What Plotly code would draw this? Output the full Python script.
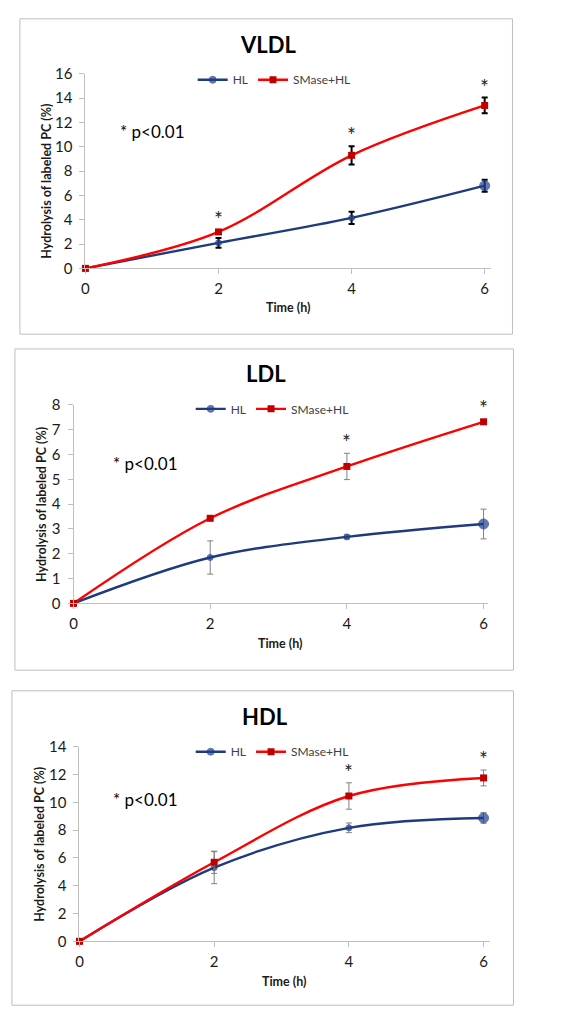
import plotly.graph_objects as go

W, H = 582, 1024

time_h = [0, 2, 4, 6]
x_ticks = [0, 2, 4, 6]

panels = ["VLDL", "LDL", "HDL"]

vldl_hl = [0, 2.1, 4.15, 6.8]
vldl_hl_err = [0, 0.4, 0.5, 0.5]
vldl_sm = [0, 3.0, 9.3, 13.4]
vldl_sm_err = [0, 0.15, 0.75, 0.65]
vldl_sig = [2, 4, 6]

ldl_hl = [0, 1.85, 2.68, 3.2]
ldl_hl_err = [0, 0.67, 0.08, 0.6]
ldl_sm = [0, 3.43, 5.52, 7.32]
ldl_sm_err = [0, 0.05, 0.53, 0.1]
ldl_sig = [4, 6]

hdl_hl = [0, 5.3, 8.17, 8.88]
hdl_hl_err = [0, 1.15, 0.35, 0.38]
hdl_sm = [0, 5.69, 10.46, 11.76]
hdl_sm_err = [0, 0.8, 0.95, 0.57]
hdl_sig = [4, 6]

y_max = [16, 8, 14]
y_dtick = [2, 1, 2]

# layout geometry in px (left, right, top, bottom) of plot areas
geo = [
    dict(pl=82, pr=490.7, pt=65, pb=263, xr=6.1, box=(16, 512, 9, 330),
         title_y=35, leg=(190, 71), p_txt=(150, 124), ytitle_x=43, ytitle_y=174, xtitle_y=303,
         err_col="#000000", err_th=2),
    dict(pl=70, pr=487.7, pt=402, pb=604, xr=6.07, box=(11, 513, 345, 672),
         title_y=370, leg=(188, 406), p_txt=(142, 462), ytitle_x=37, ytitle_y=503, xtitle_y=645,
         err_col="#808080", err_th=1),
    dict(pl=76, pr=489, pt=750, pb=948, xr=6.09, box=(8, 513, 693, 1013),
         title_y=719, leg=(188, 755), p_txt=(142, 804), ytitle_x=35, ytitle_y=849, xtitle_y=989,
         err_col="#808080", err_th=1),
]

data = [
    (vldl_hl, vldl_hl_err, vldl_sm, vldl_sm_err, vldl_sig),
    (ldl_hl, ldl_hl_err, ldl_sm, ldl_sm_err, ldl_sig),
    (hdl_hl, hdl_hl_err, hdl_sm, hdl_sm_err, hdl_sig),
]

FONT = "Lato"
HL_COL = "#1F3A7F"
HL_MK = "#1F3F8F"
SM_COL = "#FF0000"
SM_MK = "#C00000"

def px(x):
    return x / W

def py(y):
    return 1 - y / H

fig = go.Figure()
annotations = []
shapes = []
layout = {}

def note(text, x, y, size, color="#000000", angle=0):
    return dict(text=text, x=px(x), y=py(y), xref="paper", yref="paper", showarrow=False,
                xanchor="center", yanchor="middle", textangle=angle,
                font=dict(family=FONT, size=size, color=color))

for i, (name, g, (hl, hle, sm, sme, sig)) in enumerate(zip(panels, geo, data)):
    n = "" if i == 0 else str(i + 1)
    xa, ya = "x" + n, "y" + n
    leg = "legend" + n
    fig.add_trace(go.Scatter(
        x=time_h, y=hl, name="HL", mode="lines+markers",
        line=dict(color=HL_COL, width=2.4, shape="spline", smoothing=1),
        marker=dict(symbol="circle", color=HL_MK, size=[6, 6, 6, 10]),
        error_y=dict(type="data", array=hle, color=g["err_col"], thickness=g["err_th"], width=3),
        xaxis=xa, yaxis=ya, legend=leg, cliponaxis=False))
    fig.add_trace(go.Scatter(
        x=time_h, y=sm, name="SMase+HL", mode="lines+markers",
        line=dict(color=SM_COL, width=2.4, shape="spline", smoothing=1),
        marker=dict(symbol="square", color=SM_MK, size=7),
        error_y=dict(type="data", array=sme, color=g["err_col"], thickness=g["err_th"], width=3),
        xaxis=xa, yaxis=ya, legend=leg, cliponaxis=False))

    layout["xaxis" + n] = dict(
        domain=[px(g["pl"]), px(g["pr"])], range=[0, g["xr"]], anchor=ya,
        tickvals=x_ticks, ticks="outside", ticklen=5, tickcolor="#BFBFBF",
        showline=True, linecolor="#BFBFBF", linewidth=1, showgrid=False, zeroline=False,
        tickfont=dict(family=FONT, size=15, color="#1a1a1a"), ticklabelstandoff=2,
        fixedrange=True)
    layout["yaxis" + n] = dict(
        domain=[py(g["pb"]), py(g["pt"])], range=[0, y_max[i]], anchor=xa,
        dtick=y_dtick[i], ticks="outside", ticklen=5, tickcolor="#BFBFBF",
        showline=True, linecolor="#BFBFBF", linewidth=1, showgrid=False, zeroline=False,
        tickfont=dict(family=FONT, size=15, color="#1a1a1a"), ticklabelstandoff=4,
        fixedrange=True)
    layout[leg] = dict(
        orientation="h", x=px(g["leg"][0]), y=py(g["leg"][1]), xanchor="left", yanchor="middle",
        font=dict(family=FONT, size=12, color="#404040"), itemwidth=30,
        bgcolor="rgba(0,0,0,0)", tracegroupgap=0)

    annotations.append(note("<b>" + name + "</b>", (g["box"][0] + g["box"][1]) / 2 + 2,
                            g["title_y"], 22))
    annotations.append(note("<b>Time (h)</b>", (g["pl"] + g["pr"]) / 2, g["xtitle_y"], 12.5, "#1a1a1a"))
    annotations.append(note("<b>Hydrolysis of labeled PC (%)</b>", g["ytitle_x"], g["ytitle_y"], 12.5,
                            "#1a1a1a", -90))
    annotations.append(note("* p<0.01", g["p_txt"][0], g["p_txt"][1], 17))
    for t in sig:
        k = time_h.index(t)
        annotations.append(dict(text="*", x=t, y=sm[k] + sme[k], xref=xa, yref=ya,
                                xanchor="center", yanchor="bottom", showarrow=False, yshift=-3,
                                font=dict(family=FONT, size=21, color="#262626")))
    b = g["box"]
    shapes.append(dict(type="rect", xref="paper", yref="paper",
                       x0=px(b[0]), x1=px(b[1]), y0=py(b[3]), y1=py(b[2]),
                       line=dict(color="#BFBFBF", width=1), fillcolor="rgba(0,0,0,0)"))

fig.update_layout(
    width=W, height=H, margin=dict(l=0, r=0, t=0, b=0),
    paper_bgcolor="white", plot_bgcolor="white",
    annotations=annotations, shapes=shapes, **layout)

fig.write_html("out.html", config={"displayModeBar": False},
               post_script="document.body.style.margin='0';")
